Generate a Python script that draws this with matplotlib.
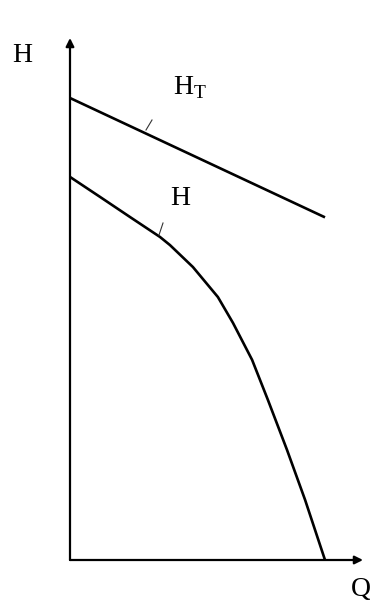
import matplotlib
matplotlib.use("Agg")
import matplotlib.pyplot as plt

plt.rcParams['font.family'] = ['Liberation Serif', 'DejaVu Serif']
plt.rcParams['mathtext.fontset'] = 'custom'
plt.rcParams['mathtext.rm'] = 'Liberation Serif'

# Theoretical head line H_T (arbitrary units)
q_t = [0.0, 10.0]
h_t = [12.0, 8.9]

# Actual head curve H
q_h = [0.0, 1.18, 2.35, 3.53, 3.92, 4.82, 5.80, 6.39, 7.14, 7.76, 8.51, 9.22, 10.0]
h_h = [9.95, 9.43, 8.91, 8.39, 8.18, 7.61, 6.83, 6.16, 5.20, 4.16, 2.86, 1.56, 0.0]

W, H = 370, 607
fig = plt.figure(figsize=(W / 100, H / 100), dpi=100)
x0, y0 = 70, 560
x1, y1 = 363, 38
ax = fig.add_axes([x0 / W, (H - y0) / H, (x1 - x0) / W, (y0 - y1) / H])
ax.set_xlim(0, (x1 - x0) / 25.5)
ax.set_ylim(0, (y0 - y1) / 38.5)
for s in ax.spines.values():
    s.set_visible(False)
ax.set_xticks([])
ax.set_yticks([])
ax.patch.set_alpha(0)

ax.annotate('', xy=(1, 0), xycoords='axes fraction', xytext=(0, 0),
            arrowprops=dict(arrowstyle='-|>', lw=1.6, color='black', mutation_scale=12, shrinkA=0, shrinkB=0))
ax.annotate('', xy=(0, 1), xycoords='axes fraction', xytext=(0, 0),
            arrowprops=dict(arrowstyle='-|>', lw=1.6, color='black', mutation_scale=12, shrinkA=0, shrinkB=0))

ax.plot(q_t, h_t, color='black', lw=1.9, solid_capstyle='butt')
ax.plot(q_h, h_h, color='black', lw=1.9, solid_joinstyle='round')

# leader ticks
ax.plot([(146 - x0) / 25.5, (152 - x0) / 25.5], [(y0 - 130) / 38.5, (y0 - 120) / 38.5], color='#333333', lw=0.8)
ax.plot([(159 - x0) / 25.5, (163 - x0) / 25.5], [(y0 - 235) / 38.5, (y0 - 223) / 38.5], color='#333333', lw=0.8)

fig.text(22 / W, 1 - 55 / H, 'H', fontsize=20, ha='center', va='center')
fig.text(190 / W, 1 - 88 / H, r'$\mathrm{H}_{\mathrm{T}}$', fontsize=20, ha='center', va='center')
fig.text(180 / W, 1 - 199 / H, 'H', fontsize=20, ha='center', va='center')
fig.text(361 / W, 1 - 590 / H, 'Q', fontsize=20, ha='center', va='center')

fig.savefig('out.png', dpi=100, facecolor='white')
